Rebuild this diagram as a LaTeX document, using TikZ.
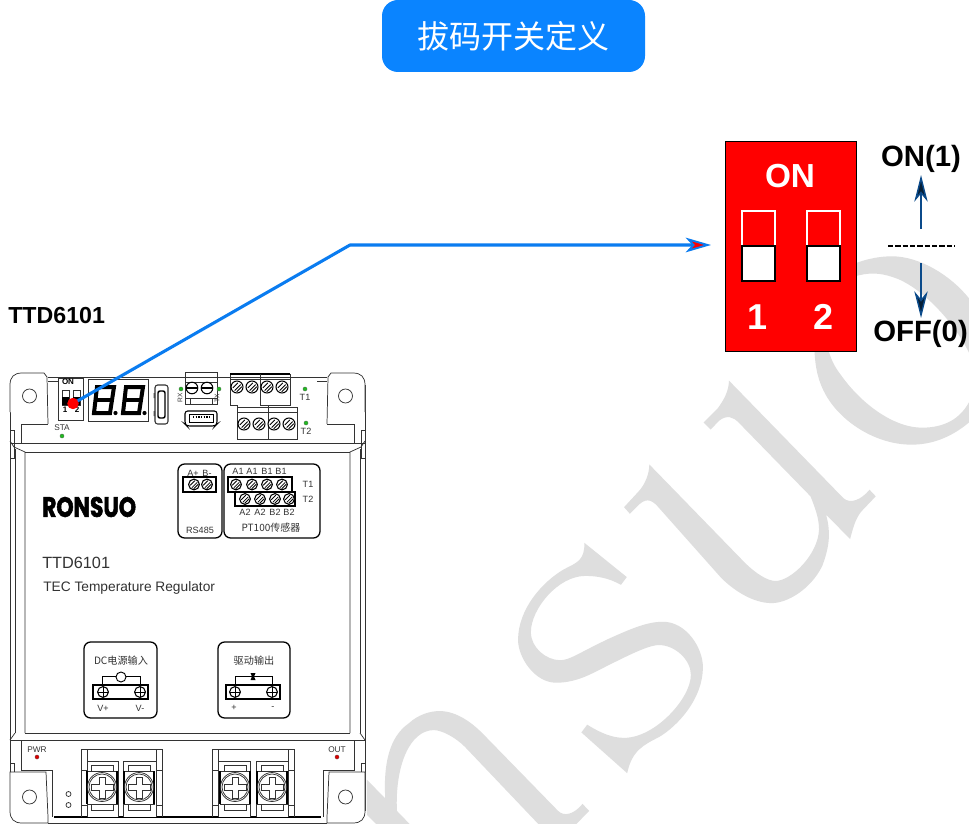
\documentclass[tikz,border=0pt]{standalone}
\usepackage{fontspec}
\setmainfont{Liberation Sans}
\newfontfamily\cjk{Noto Sans CJK SC}
\newfontfamily\logofont[FakeBold=2.2]{Poppins}
\usetikzlibrary{arrows.meta}
\definecolor{wm}{HTML}{DEDEDE}
\definecolor{titleblue}{HTML}{0A84FF}
\definecolor{linkblue}{HTML}{0A7CF0}
\definecolor{navy}{HTML}{0B4A8A}
\definecolor{ledgreen}{HTML}{22B822}
\definecolor{devline}{HTML}{333333}
\tikzset{
  dev/.style={draw=devline,line width=0.55pt},
  devthick/.style={draw=black,line width=0.9pt},
  panelbox/.style={draw=black,line width=0.95pt,rounded corners=5pt},
  tiny/.style={inner sep=0pt,text=devline,font=\fontsize{6.2}{7}\selectfont},
  small/.style={inner sep=0pt,text=devline,font=\fontsize{6.8}{8}\selectfont},
  bigbold/.style={inner sep=0pt,font=\bfseries\fontsize{22}{24}\selectfont},
  dipnum/.style={inner sep=0pt,text=white,font=\bfseries\fontsize{27}{29}\selectfont},
  navyarrow/.style={draw=navy,line width=1.1pt,-{Stealth[length=20pt,width=10pt,inset=6pt,fill=black!60!navy]}},
}
\newcommand{\tlabel}[5][small]{\node[#1] (#2) at (#3,#4) {#5};}
\newcommand{\slotscrew}[3]{%
  \draw[black,line width=0.8pt,fill=white] (#1,#2) circle [radius=#3];
  \draw[black,line width=0.6pt] (#1-#3*0.7,#2+#3*0.15) -- (#1+#3*0.15,#2-#3*0.7)
        (#1-#3*0.4,#2+#3*0.6) -- (#1+#3*0.6,#2-#3*0.4)
        (#1-#3*0.05,#2+#3*0.8) -- (#1+#3*0.8,#2-#3*0.05);}
\newcommand{\plusscrew}[3]{%
  \draw[black,line width=0.8pt,fill=white] (#1,#2) circle [radius=#3];
  \draw[black,line width=0.7pt] (#1-#3,#2) -- (#1+#3,#2) (#1,#2-#3) -- (#1,#2+#3);}
\newcommand{\bigscrew}[2]{%
  \draw[dev,fill=white] (#1-15,#2-16) rectangle (#1+15,#2+17);
  \draw[black,line width=0.9pt] (#1-15,#2-16) -- (#1-15,#2+17) (#1+15,#2-16)--(#1+15,#2+17);
  \draw[dev] (#1,#2) circle [radius=14.5];
  \draw[dev] (#1,#2) circle [radius=13];
  \draw[dev] (#1-3,#2-10) -- (#1+3,#2-10) -- (#1+3,#2-3) -- (#1+11,#2-3) -- (#1+11,#2+3)
     -- (#1+3,#2+3) -- (#1+3,#2+11) -- (#1-3,#2+11) -- (#1-3,#2+3) -- (#1-11,#2+3)
     -- (#1-11,#2-3) -- (#1-3,#2-3) -- cycle;
  \draw[dev] (#1-11,#2-16) -- (#1-11,#2-22) -- (#1+11,#2-22) -- (#1+11,#2-16);
  \draw[dev] (#1-11,#2+17) -- (#1-11,#2+23) -- (#1+11,#2+23) -- (#1+11,#2+17);}
\newcommand{\led}[3]{\fill[#3,draw=black!60,line width=0.2pt] (#1,#2) circle [radius=2.1];}
\begin{document}
\begin{tikzpicture}[x=0.75pt,y=-0.75pt]
\useasboundingbox (0,0) rectangle (969,823);
\fill[white] (0,0) rectangle (969,823);
% --- watermark
\begin{scope}[shift={(360,240)},x=0.29126pt,y=-0.29126pt]
\fill[wm] (950,362) -- (1245,665) .. controls (1262,680) and (1290,670) .. (1312,643) -- (1328,660) -- (1290,700)
  .. controls (1275,720) and (1270,740) .. (1262,770) -- (1200,707)
  .. controls (1215,760) and (1205,800) .. (1190,840) .. controls (1160,900) and (1100,935) .. (1060,935)
  .. controls (1010,935) and (960,900) .. (930,870) -- (770,690) .. controls (755,672) and (740,662) .. (720,680)
  -- (695,705) -- (680,688) -- (715,650) .. controls (735,630) and (745,600) .. (745,578)
  -- (990,830) .. controls (1020,860) and (1050,878) .. (1070,878) .. controls (1110,878) and (1180,810) .. (1182,745)
  .. controls (1182,715) and (1170,685) .. (1160,660) -- (975,470) .. controls (960,455) and (945,450) .. (925,465)
  -- (903,488) -- (885,470) -- (920,435) .. controls (935,415) and (950,390) .. (950,362) -- cycle;
\fill[wm] (578,780) -- (687,868) -- (672,888) .. controls (640,870) and (610,865) .. (580,865)
  .. controls (510,865) and (440,950) .. (440,1010) .. controls (440,1050) and (480,1082) .. (515,1082)
  .. controls (540,1082) and (560,1065) .. (640,1027) .. controls (700,1000) and (740,983) .. (780,983)
  .. controls (840,983) and (883,1050) .. (883,1100) .. controls (883,1180) and (820,1250) .. (770,1280)
  .. controls (730,1300) and (700,1315) .. (688,1373) -- (570,1268) -- (585,1248)
  .. controls (620,1270) and (650,1282) .. (680,1282) .. controls (760,1282) and (852,1180) .. (852,1120)
  .. controls (852,1080) and (810,1043) .. (770,1043) .. controls (740,1043) and (680,1075) .. (600,1115)
  .. controls (560,1135) and (530,1140) .. (505,1140) .. controls (450,1140) and (407,1075) .. (407,1030)
  .. controls (407,950) and (470,880) .. (525,848) .. controls (560,830) and (578,825) .. (578,780) -- cycle;
\fill[wm] (18,1390) -- (65,1438) .. controls (60,1350) and (75,1280) .. (125,1245)
  .. controls (150,1222) and (180,1213) .. (205,1213) .. controls (250,1213) and (290,1245) .. (315,1270)
  -- (510,1470) .. controls (525,1485) and (550,1480) .. (573,1452) -- (590,1470) -- (495,1568) -- (465,1568)
  .. controls (480,1545) and (478,1525) .. (465,1510) -- (270,1305) .. controls (245,1280) and (210,1262) .. (190,1262)
  .. controls (130,1262) and (90,1350) .. (95,1470) -- (190,1568) -- (105,1568) -- (18,1480) -- cycle;
\fill[wm] (1200,100) .. controls (1250,65) and (1310,42) .. (1370,42) .. controls (1440,42) and (1520,90) .. (1568,150)
  -- (1568,290) .. controls (1530,210) and (1440,115) .. (1370,95) .. controls (1340,85) and (1310,82) .. (1270,95) -- cycle;
\fill[wm] (1568,418) .. controls (1540,470) and (1490,485) .. (1440,483) .. controls (1370,480) and (1290,420) .. (1240,350)
  .. controls (1225,330) and (1215,315) .. (1205,280) -- (1170,280) .. controls (1172,330) and (1180,365) .. (1200,400)
  .. controls (1240,470) and (1330,527) .. (1420,527) .. controls (1470,527) and (1520,510) .. (1568,470) -- cycle;
\end{scope}
% --- title
\node[fill=titleblue,rounded corners=12pt,minimum width=197.25pt,minimum height=54pt,inner sep=0pt,
      text=white,font=\cjk\fontsize{24}{26}\selectfont] (title) at (513.5,36) {拔码开关定义};
% --- device label
\node[inner sep=0pt,anchor=west,font=\bfseries\fontsize{17.4}{20}\selectfont] (model) at (8,316) {TTD6101};
% --- device housing
\fill[white] (10,373) rectangle (365,823);
\draw[dev] (10,385) -- (10,811) (365,385) -- (365,811);
\foreach \mir/\sh in {1/0,-1/375}{
\begin{scope}[xshift=\sh*0.75pt,xscale=\mir]
  \draw[dev,fill=white] (10,412) -- (10,385) .. controls (10,377) and (14,373) .. (22,373) -- (44,373) -- (47,377) -- (48,424);
  \draw[dev] (29.5,396) circle [radius=7];
  \draw[dev] (48,381) -- (58,381);
  \draw[dev] (21,424) -- (48,424) (21,424) -- (21,443);
  \draw[dev] (10,441) -- (14,447) -- (25,452) -- (25,733);
  \draw[dev] (15,449) -- (15,733) (10,430) rectangle (14,458);
  \draw[dev] (10,763) rectangle (14,795);
  \draw[dev] (15,733) -- (10,740);
  % lower corner
  \draw[dev] (21,740) -- (21,770) -- (52,770) -- (52,817);
  \draw[dev,fill=white] (10,772) -- (46,772) -- (48,817) -- (48,823) -- (22,823) .. controls (14,823) and (10,819) .. (10,811) -- cycle;
  \draw[dev] (29.5,797) circle [radius=7];
\end{scope}}
\draw[dev] (48,377) -- (327,377);
\draw[dev] (10,443) -- (365,443);
\draw[dev] (25,452) -- (350,452);
\draw[dev] (25,733) -- (350,733);
\draw[dev] (10,740) -- (365,740);
\draw[devthick] (54,817) -- (321,817);
\draw[dev] (48,823) -- (327,823);
% --- DIP miniature
\draw[dev] (58,378) rectangle (83,420);
\node[inner sep=0pt,font=\bfseries\fontsize{6}{7}\selectfont] (minion) at (68,382) {ON};
\draw[dev,fill=white] (62,390) rectangle (69,405);
\draw[dev,fill=white] (73,390) rectangle (80,405);
\fill[black] (62,397) rectangle (69,405);
\fill[black] (73,397) rectangle (80,405);
\node[inner sep=0pt,font=\bfseries\fontsize{6}{7}\selectfont] (mini1) at (65,410) {1};
\node[inner sep=0pt,font=\bfseries\fontsize{6}{7}\selectfont] (mini2) at (77,410) {2};
% --- 7 segment display
\draw[dev] (88,379) rectangle (148,421);
\foreach \dx in {0,29}{
  \draw[black,line width=3pt,line join=miter] (97+\dx,387) -- (114+\dx,387) -- (110+\dx,413) -- (94+\dx,413) -- cycle;
  \draw[black,line width=2.6pt] (95+\dx,400) -- (112+\dx,400);
  \fill[black] (115.5+\dx,413) circle [radius=2.1];}
% --- vertical port
\draw[dev,rounded corners=2pt,line width=0.8pt] (155,385) rectangle (168,424);
\draw[black,line width=1.1pt,rounded corners=1.5pt] (158,391) rectangle (165,418);
\fill[black!70] (153.5,393) rectangle (155,398) (153.5,411) rectangle (155,416);
% --- green connector
\draw[dev] (185,372) rectangle (217,404);
\draw[dev] (185,382) -- (217,382) (185,398) -- (217,398) (190,398) -- (190,404) (212,398) -- (212,404);
\foreach \sx in {192,207}{\draw[black,line width=0.8pt,fill=white] (\sx,388) circle [radius=5.8];
  \draw[black,line width=1pt] (\sx-5,388) -- (\sx+5,388);}
\led{181}{389}{ledgreen}\led{219}{389}{ledgreen}
\node[tiny,rotate=90,font=\fontsize{5}{6}\selectfont] (rxl) at (180,398) {RX};
\node[tiny,rotate=90,font=\fontsize{5}{6}\selectfont] (txl) at (217,398) {TX};
% --- mini USB
\draw[black,line width=0.8pt,rounded corners=2pt] (185,411) -- (217,411) -- (217,424) -- (215,426) -- (187,426) -- (185,424) -- cycle;
\draw[black,line width=0.7pt] (189,414) -- (213,414) -- (213,422) -- (189,422) -- cycle;
\draw[black,line width=1.6pt,dash pattern=on 1pt off 1pt] (193,417) -- (210,417);
% --- T1/T2 terminals
\draw[dev] (230,374) -- (290,374) -- (290,405) -- (260,405) (230,374) -- (230,405) -- (237,405);
\draw[black,line width=1.1pt] (230,374) -- (290,374);
\draw[dev] (230,379) -- (290,379) (260,374) -- (260,405);
\foreach \sx in {237,252,267,282}{\slotscrew{\sx}{387}{6}}
\draw[dev] (237,405) -- (237,439) -- (297,439) -- (297,407) -- (237,407);
\draw[dev] (237,412) -- (297,412) (268,405) -- (268,439);
\foreach \sx in {244,259,274,289}{\slotscrew{\sx}{424}{6}}
\led{305}{389}{ledgreen}\tlabel{t1top}{305}{397}{T1}
\led{306}{423}{ledgreen}\tlabel{t2top}{306}{431}{T2}
\tlabel[tiny]{sta}{62}{428}{STA}\led{62}{436}{ledgreen}
% --- logo and text
\node[inner sep=0pt,anchor=west,xscale=0.78,transform shape,font=\logofont\bfseries\fontsize{21}{24}\selectfont] (logo) at (42,507) {RONSUO};
\node[inner sep=0pt,anchor=west,text=devline,font=\fontsize{12.2}{14}\selectfont] (name) at (42,563) {TTD6101};
\node[inner sep=0pt,anchor=west,text=devline,font=\fontsize{10.3}{12}\selectfont] (desc) at (43,588) {TEC Temperature Regulator};
% --- RS485 panel
\draw[panelbox] (178,464) rectangle (222,538);
\draw[black,line width=0.8pt] (183,477) rectangle (216,492);
\slotscrew{194}{484.5}{5.4}\slotscrew{207}{484.5}{5.4}
\tlabel{ap}{193}{473}{A+}\tlabel{bm}{207}{473}{B-}
\tlabel{rs}{200}{530}{RS485}
% --- PT100 panel
\draw[panelbox] (224,464) rectangle (320,538);
\draw[black,line width=0.8pt] (228,477) rectangle (292,492);
\draw[black,line width=0.8pt] (235,492) rectangle (295,506);
\foreach \sx in {236,252,267,282}{\slotscrew{\sx}{484.5}{5.4}}
\foreach \sx in {245,260,275,289}{\slotscrew{\sx}{499}{5.4}}
\tlabel{aa}{238}{471.5}{A1}\tlabel{ab}{252}{471.5}{A1}\tlabel{ba}{267}{471.5}{B1}\tlabel{bb}{281}{471.5}{B1}
\tlabel{ca}{245}{512}{A2}\tlabel{cb}{260}{512}{A2}\tlabel{da}{275}{512}{B2}\tlabel{db}{289}{512}{B2}
\tlabel{tt1}{308}{484}{T1}\tlabel{tt2}{308}{499}{T2}
\node[small,font=\cjk\fontsize{7.5}{9}\selectfont] (pt) at (271,528) {PT100传感器};
% --- DC panel
\draw[panelbox] (84,642) rectangle (157,718);
\node[small,font=\cjk\fontsize{7.6}{9}\selectfont] (dc) at (121,661) {DC电源输入};
\draw[black,line width=0.8pt] (93,685) rectangle (148,699);
\draw[black,line width=0.7pt] (102,685) -- (102,676.5) -- (140,676.5) -- (140,685);
\draw[black,line width=0.7pt,fill=white] (121,677) circle [radius=5];
\plusscrew{103}{692}{5.4}\plusscrew{140}{692}{5.4}
\tlabel{vp}{103}{708}{V+}\tlabel{vm}{140}{708}{V-}
% --- drive panel
\draw[panelbox] (218,642) rectangle (290,718);
\node[small,font=\cjk\fontsize{7.6}{9}\selectfont] (dr) at (254,661) {驱动输出};
\draw[black,line width=0.8pt] (226,685) rectangle (280,699);
\draw[black,line width=0.7pt] (235,685) -- (235,676.5) -- (272,676.5) -- (272,685);
\fill[black] (250.5,673) -- (255.5,673) -- (254,676.5) -- (255.5,680) -- (250.5,680) -- (252,676.5) -- cycle;
\plusscrew{235}{692}{5.4}\plusscrew{272}{692}{5.4}
\tlabel{pp}{234}{708}{+}\tlabel{mm}{273}{708}{-}
% --- bottom section
\tlabel[tiny]{pwr}{37}{750}{PWR}\led{37}{757}{red!85!black}
\tlabel[tiny]{outl}{337}{750}{OUT}\led{337}{757}{red!85!black}
\foreach \a/\b in {81/162,212/294}{
  \draw[dev] (\a,817) -- (\a,749) -- (\b,749) -- (\b,817);
  \draw[dev] (\a+6,749) -- (\a+6,817) (\b-6,749) -- (\b-6,817);
  \draw[dev] (\a,770) -- (\a+6,770) (\a,805) -- (\a+6,805) (\b-6,770) -- (\b,770) (\b-6,805) -- (\b,805);}
\foreach \a/\b in {87/118,123/156,218/250,256/288}{
  \draw[dev,fill=white] (\a,817) -- (\a,761) -- (\b,761) -- (\b,817);}
\bigscrew{102}{787}\bigscrew{139}{787}\bigscrew{235}{787}\bigscrew{272}{787}
\draw[dev] (68.5,794) circle [radius=2.5] (68.5,805) circle [radius=2.5];
% --- DIP enlarged
\node[fill=red,draw=black,line width=1.1pt,minimum width=98pt,minimum height=157.5pt,inner sep=0pt,anchor=north west] (dip) at (725,141) {};
\node[inner sep=0pt,text=white,font=\bfseries\fontsize{25}{27}\selectfont] (dipon) at (790,176) {ON};
\foreach \sx in {742,807}{
  \draw[white,line width=0.9pt] (\sx,246) -- (\sx,211) -- (\sx+33,211) -- (\sx+33,246);
  \draw[black,fill=white,line width=0.9pt] (\sx,246) rectangle (\sx+33,281);}
\node[dipnum] (dipa) at (757,317) {1};
\node[dipnum] (dipb) at (823,317) {2};
% --- ON/OFF legend
\node[bigbold] (onl) at (921,159) {ON(1)};
\node[bigbold] (offl) at (920.5,334) {OFF(0)};
\coordinate (upstart) at (921,229);
\coordinate (upend) at (921,175);
\coordinate (downstart) at (921,263);
\coordinate (downend) at (921,318);
\coordinate (dashl) at (888,246);
\coordinate (dashr) at (955,246);
\draw[navyarrow] (upstart) -- (upend);
\draw[navyarrow] (downstart) -- (downend);
\draw[black,line width=0.9pt,dash pattern=on 3.9pt off 1.6pt] (dashl) -- (dashr);
% --- link
\node[circle,fill=red,minimum size=8.4pt,inner sep=0pt] (pin) at (73,403.5) {};
\coordinate (elbow) at (350,245);
\coordinate (tip) at (711,245);
\draw[linkblue,line width=2.3pt,line join=round,-{Stealth[length=19pt,width=11pt,inset=5pt,fill=red,line width=1.4pt]}] (pin.center) -- (elbow) -- (tip);
\node[circle,fill=red,minimum size=8.4pt,inner sep=0pt] (pin2) at (73,403.5) {};
\end{tikzpicture}
\end{document}
